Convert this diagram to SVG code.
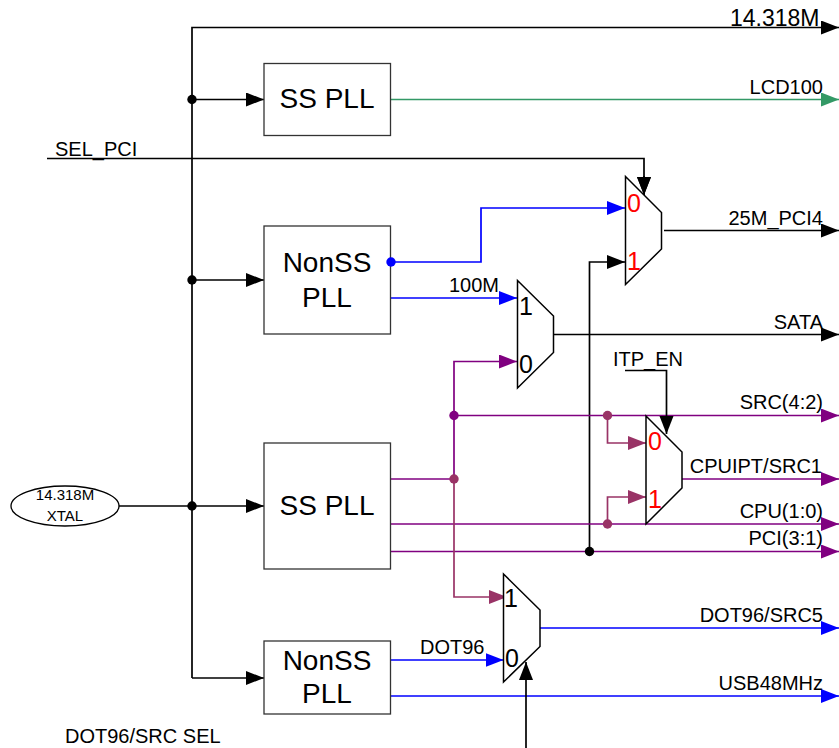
<svg xmlns="http://www.w3.org/2000/svg" width="839" height="748" viewBox="0 0 839 748">
<style>
text{font-family:"Liberation Sans",Arial,sans-serif;fill:#000}
.box{fill:#fff;stroke:#333;stroke-width:1.3}
.mux{fill:#fff;stroke:#000;stroke-width:1.5}
.big{font-size:28px;text-anchor:middle}
.lab{font-size:20px}
.end{font-size:20px;text-anchor:end}
.num{font-size:25px}
.red{fill:#f00}
.w{fill:none;stroke-width:1.7}
.k{stroke:#000}.b{stroke:#00f}.p{stroke:#800080}.m{stroke:#993366}.g{stroke:#339966}
</style>
<defs>
<marker id="ak" markerUnits="userSpaceOnUse" markerWidth="19" markerHeight="15" refX="18" refY="7" orient="auto"><path d="M0 0L18 7L0 14z" fill="#000"/></marker>
<marker id="ab" markerUnits="userSpaceOnUse" markerWidth="19" markerHeight="15" refX="18" refY="7" orient="auto"><path d="M0 0L18 7L0 14z" fill="#00f"/></marker>
<marker id="ap" markerUnits="userSpaceOnUse" markerWidth="19" markerHeight="15" refX="18" refY="7" orient="auto"><path d="M0 0L18 7L0 14z" fill="#800080"/></marker>
<marker id="am" markerUnits="userSpaceOnUse" markerWidth="19" markerHeight="15" refX="18" refY="7" orient="auto"><path d="M0 0L18 7L0 14z" fill="#993366"/></marker>
<marker id="ag" markerUnits="userSpaceOnUse" markerWidth="19" markerHeight="15" refX="18" refY="7" orient="auto"><path d="M0 0L18 7L0 14z" fill="#339966"/></marker>
</defs>
<g id="connectors">
<path class="w k" d="M192 678V27.5H839" marker-end="url(#ak)"/>
<path class="w k" d="M192 99.5H264" marker-end="url(#ak)"/>
<path class="w k" d="M192 280H264" marker-end="url(#ak)"/>
<path class="w k" d="M119 506H264" marker-end="url(#ak)"/>
<path class="w k" d="M192 678H264" marker-end="url(#ak)"/>
<path class="w k" d="M47 158.5H644V195" marker-end="url(#ak)"/>
<path class="w g" d="M391 99.5H839" marker-end="url(#ag)"/>
<path class="w b" d="M391 262H481V208H625" marker-end="url(#ab)"/>
<path class="w b" d="M391 298H517" marker-end="url(#ab)"/>
<path class="w k" d="M589.5 551.5V262H625" marker-end="url(#ak)"/>
<path class="w k" d="M664 230.5H839" marker-end="url(#ak)"/>
<path class="w k" d="M554 334.5H839" marker-end="url(#ak)"/>
<path class="w p" d="M454 479V361.5H517" marker-end="url(#ap)"/>
<path class="w p" d="M454 415.5H839" marker-end="url(#ap)"/>
<path class="w m" d="M607.5 415.5V443H646" marker-end="url(#am)"/>
<path class="w m" d="M607.5 524V497H646" marker-end="url(#am)"/>
<path class="w p" d="M682 479H839" marker-end="url(#ap)"/>
<path class="w p" d="M391 524H839" marker-end="url(#ap)"/>
<path class="w p" d="M391 551.5H839" marker-end="url(#ap)"/>
<path class="w p" d="M391 479H454"/>
<path class="w m" d="M454 479V597H507" marker-end="url(#am)"/>
<path class="w b" d="M391 660H503.5" marker-end="url(#ab)"/>
<path class="w b" d="M540 628H839" marker-end="url(#ab)"/>
<path class="w b" d="M391 696H839" marker-end="url(#ab)"/>
<g fill="#000"><circle cx="192" cy="99.5" r="4.7"/><circle cx="192" cy="280" r="4.7"/><circle cx="192" cy="506" r="4.7"/><circle cx="589.5" cy="551.5" r="4.7"/></g>
<circle cx="454" cy="415.5" r="4.7" fill="#800080"/>
<g fill="#993366"><circle cx="454" cy="479" r="4.7"/><circle cx="607.5" cy="415.5" r="4.7"/><circle cx="607.5" cy="524" r="4.7"/></g>
</g>
<g id="xtal"><ellipse cx="65" cy="506" rx="54" ry="20" fill="#fff" stroke="#000" stroke-width="1.3"/><text x="65" y="500" font-size="15" text-anchor="middle">14.318M</text><text x="65" y="521" font-size="15" text-anchor="middle">XTAL</text></g>
<g id="pll1"><rect class="box" x="264" y="63.5" width="126.5" height="72"/><text class="big" x="327" y="108">SS PLL</text></g>
<g id="pll2"><rect class="box" x="264" y="226" width="126.5" height="108"/><text class="big" x="327" y="272">NonSS</text><text class="big" x="327" y="307">PLL</text><circle cx="391" cy="262" r="4.7" fill="#00f"/></g>
<g id="pll3"><rect class="box" x="264" y="443" width="126.5" height="126"/><text class="big" x="327" y="515">SS PLL</text></g>
<g id="pll4"><rect class="box" x="264" y="641" width="126.5" height="73"/><text class="big" x="327" y="670">NonSS</text><text class="big" x="327" y="703">PLL</text></g>
<g id="mux1"><path class="mux" d="M625.5 176.5L661.5 212.5V249L625.5 284.5z"/><text class="num red" x="627" y="212">0</text><text class="num red" x="627" y="270">1</text></g>
<g id="mux2"><path class="mux" d="M517.5 280.5L553.5 316V352.5L517.5 388z"/><text class="num" x="519" y="315">1</text><text class="num" x="519" y="373">0</text></g>
<g id="mux3"><path class="mux" d="M646 416L682 452V488L646 524z"/><text class="num red" x="648" y="450">0</text><text class="num red" x="648" y="508">1</text></g>
<g id="mux4"><path class="mux" d="M503.5 574L540 610V646.5L503.5 682z"/><text class="num" x="504" y="607">1</text><text class="num" x="505" y="667">0</text></g>
<g id="overlay">
<path class="w k" d="M625 370.5H666.5V434" marker-end="url(#ak)"/>
<path class="w k" d="M526 748V662" marker-end="url(#ak)"/>
<path class="w k" d="M644 176V195" marker-end="url(#ak)"/>
</g>
<g id="labels">
<text x="730" y="26" font-size="23">14.318M</text>
<text class="end" x="823" y="94">LCD100</text>
<text class="lab" x="55" y="156">SEL_PCI</text>
<text class="end" x="823" y="225">25M_PCI4</text>
<text class="lab" x="449" y="292">100M</text>
<text class="end" x="823" y="329">SATA</text>
<text class="lab" x="613" y="366">ITP_EN</text>
<text class="end" x="823" y="409">SRC(4:2)</text>
<text class="end" x="822" y="473">CPUIPT/SRC1</text>
<text class="end" x="823" y="518">CPU(1:0)</text>
<text class="end" x="823" y="545">PCI(3:1)</text>
<text class="lab" x="420" y="654">DOT96</text>
<text class="end" x="823" y="622">DOT96/SRC5</text>
<text class="end" x="823" y="690">USB48MHz</text>
<text class="lab" x="65" y="743">DOT96/SRC SEL</text>
</g>
</svg>
